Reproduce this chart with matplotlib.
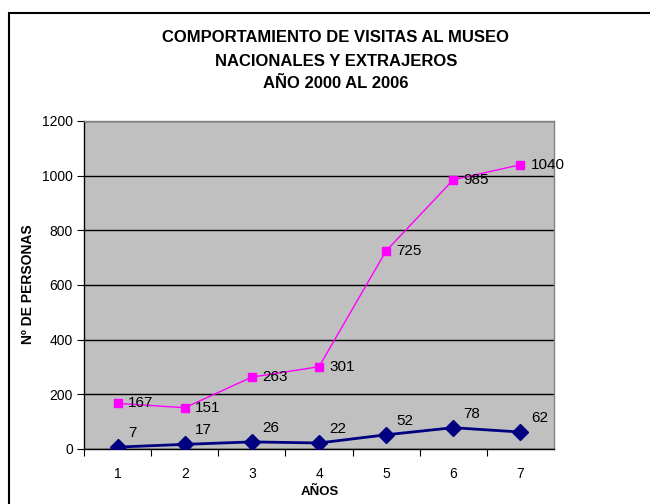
import matplotlib
matplotlib.use("Agg")
import matplotlib.pyplot as plt
from matplotlib.patches import Rectangle

years = [1, 2, 3, 4, 5, 6, 7]
extranjeros = [167, 151, 263, 301, 725, 985, 1040]
nacionales = [7, 17, 26, 22, 52, 78, 62]
yticks = [0, 200, 400, 600, 800, 1000, 1200]

plt.rcParams['font.family'] = ['Liberation Sans', 'DejaVu Sans']

W, H = 650, 504
fig = plt.figure(figsize=(W / 100, H / 100), dpi=100)

# outer chart frame
fig.patches.append(Rectangle((9 / W, 0 - 0.01), 1.0, (H - 13) / H + 0.01,
                             transform=fig.transFigure, fill=False,
                             edgecolor='black', linewidth=1.5))

left, right, top, bottom = 84, 554, 121, 449
ax = fig.add_axes([left / W, 1 - bottom / H, (right - left) / W, (bottom - top) / H])
ax.set_facecolor('#C0C0C0')

ax.set_xlim(0.5, 7.5)
ax.set_ylim(0, 1200)
ax.set_yticks(yticks)
ax.set_yticklabels([str(v) for v in yticks], fontsize=10)
ax.yaxis.grid(True, color='black', linewidth=1)
ax.set_axisbelow(True)

ax.set_xticks([y + 0.5 for y in years[:-1]] + [0.5], minor=False)
ax.set_xticklabels([])
ax.set_xticks(years, minor=True)
ax.set_xticklabels([str(y) for y in years], minor=True, fontsize=10)
ax.tick_params(axis='x', which='major', length=5, direction='out', color='black')
ax.tick_params(axis='x', which='minor', length=0, pad=13)
ax.tick_params(axis='y', length=5, direction='out', pad=3)

for s in ['top', 'right']:
    ax.spines[s].set_color('#808080')
    ax.spines[s].set_linewidth(1)
for s in ['left', 'bottom']:
    ax.spines[s].set_color('black')
    ax.spines[s].set_linewidth(1)

ax.plot(years, extranjeros, color='#FF00FF', linewidth=1, marker='s',
        markersize=6, markeredgecolor='#FF00FF', markerfacecolor='#FF00FF', zorder=3)
ax.plot(years, nacionales, color='#000080', linewidth=2, marker='D',
        markersize=8, markeredgecolor='#000080', markerfacecolor='#000080', zorder=3)

for x, v in zip(years, extranjeros):
    ax.annotate(str(v), (x, v), xytext=(7.5, 0), textcoords='offset points',
                fontsize=11, ha='left', va='center', zorder=4)
for x, v in zip(years, nacionales):
    ax.annotate(str(v), (x, v), xytext=(7.5, 10), textcoords='offset points',
                fontsize=11, ha='left', va='center', zorder=4)

fig.text(336 / W, 1 - 38 / H, 'COMPORTAMIENTO DE VISITAS AL MUSEO', ha='center',
         va='center', fontsize=12, fontweight='bold')
fig.text(336 / W, 1 - 61 / H, 'NACIONALES Y EXTRAJEROS', ha='center',
         va='center', fontsize=12, fontweight='bold')
fig.text(336 / W, 1 - 84 / H, 'AÑO 2000 AL 2006', ha='center',
         va='center', fontsize=12, fontweight='bold')

fig.text(320 / W, 1 - 492 / H, 'AÑOS', ha='center', va='center',
         fontsize=9.5, fontweight='bold')
fig.text(28 / W, 1 - 284 / H, 'Nº DE PERSONAS', ha='center', va='center',
         rotation=90, fontsize=10, fontweight='bold')

fig.savefig('out.png', dpi=100)
